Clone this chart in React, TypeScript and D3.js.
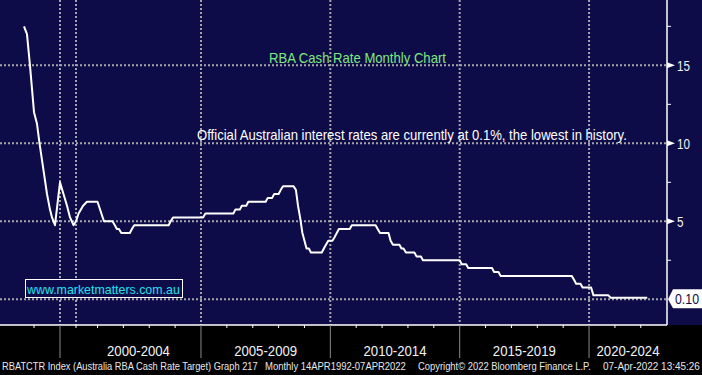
import React, { useRef, useEffect } from "react";
import * as d3 from "d3";

// line vertices: decimal year -> cash rate (%)
const years = [
  1989.46, 1989.92, 1990.38, 1991.0, 1991.46, 1991.85, 1992.38, 1993.0, 1993.46, 1993.77,
  1994.23, 1995.0, 1996.09, 1997.19, 1998.13, 1999.22, 2000.0, 2000.12, 2000.33, 2000.51,
  2001.0, 2001.25, 2001.58, 2001.67, 2001.75, 2001.83, 2001.92, 2002.25, 2002.33, 2002.42,
  2003.75, 2003.83, 2003.92, 2005.08, 2005.17, 2006.25, 2006.33, 2006.5, 2006.58, 2006.75,
  2006.83, 2007.5, 2007.58, 2007.75, 2007.83, 2008.0, 2008.08, 2008.17, 2008.58, 2008.67,
  2008.75, 2008.83, 2008.92, 2009.08, 2009.17, 2009.25, 2009.67, 2009.75, 2009.83,
  2009.92, 2010.08, 2010.17, 2010.25, 2010.33, 2010.75, 2010.83, 2011.75, 2011.83, 2011.92,
  2012.25, 2012.33, 2012.42, 2012.67, 2012.75, 2012.83, 2012.92, 2013.25, 2013.33, 2013.5,
  2013.58, 2015.0, 2015.08, 2015.25, 2015.33, 2016.25, 2016.33, 2016.5, 2016.58, 2019.33,
  2019.42, 2019.5, 2019.67, 2019.75, 2020.08, 2020.17, 2020.75, 2020.83, 2022.25,
];
const rates = [
  17.5, 17.0, 15.0, 12.0, 11.25, 10.0, 8.5, 6.75, 5.75, 5.25,
  4.75, 7.5, 6.75, 6.0, 5.25, 4.75, 5.0, 5.5, 6.0, 6.25,
  6.25, 5.0, 5.0, 4.75, 4.5, 4.5, 4.25, 4.25, 4.5, 4.75,
  4.75, 5.0, 5.25, 5.25, 5.5, 5.5, 5.75, 5.75, 6.0, 6.0,
  6.25, 6.25, 6.5, 6.5, 6.75, 6.75, 7.0, 7.25, 7.25, 7.0,
  6.0, 5.25, 4.25, 3.25, 3.25, 3.0, 3.0, 3.25, 3.5,
  3.75, 3.75, 4.0, 4.25, 4.5, 4.5, 4.75, 4.75, 4.5, 4.25,
  4.25, 3.75, 3.5, 3.5, 3.25, 3.25, 3.0, 3.0, 2.75, 2.75,
  2.5, 2.5, 2.25, 2.25, 2.0, 2.0, 1.75, 1.75, 1.5, 1.5,
  1.25, 1.0, 1.0, 0.75, 0.75, 0.25, 0.25, 0.1, 0.1,
];

const yGrid = [0, 5, 10, 15];
const yLabels = [5, 10, 15];
const yMinor = [2.5, 7.5, 12.5, 17.5];
const xGrid = [1995, 2000, 2005, 2010, 2015, 2020];
const xSeparators = [1995, 2005, 2010, 2015, 2020];
const xMinor = [1991, 2000, 2001, 2002, 2003, 2004, 2006, 2007, 2008, 2009, 2011, 2012, 2013, 2014, 2016, 2017, 2018, 2019, 2021, 2022];
const periodStarts = [2000, 2005, 2010, 2015, 2020];
const periodLabels = ["2000-2004", "2005-2009", "2010-2014", "2015-2019", "2020-2024"];
const lastLabel = "0.10";

const title = "RBA Cash Rate Monthly Chart";
const note = "Official Australian interest rates are currently at 0.1%, the lowest in history.";
const website = "www.marketmatters.com.au";
const footer = [
  "RBATCTR Index (Australia RBA Cash Rate Target) Graph 217",
  "Monthly 14APR1992-07APR2022",
  "Copyright\u00a9 2022 Bloomberg Finance L.P.",
  "07-Apr-2022 13:45:26",
];

// squeeze a text node horizontally so it spans `w` pixels (Bloomberg uses a narrow face)
const fit = (node, x, y, w, anchor = "start") => {
  const natural = node.getComputedTextLength();
  const s = w / natural;
  const left = anchor === "middle" ? x - w / 2 : x;
  d3.select(node).attr("transform", `translate(${left},${y}) scale(${s},1)`);
};

const RateChart = () => {
  const wrapper = useRef(null);
  const width = 702;
  const height = 375;
  const plotRight = 667;
  const plotBottom = 325;

  useEffect(() => {
    d3.select(wrapper.current).selectAll("*").remove();
    const font = "'Liberation Sans', Arial, sans-serif";

    const svg = d3
      .select(wrapper.current)
      .append("svg")
      .attr("width", width)
      .attr("height", height)
      .style("position", "absolute")
      .style("left", 0)
      .style("top", 0)
      .style("font-family", font);

    // the early years are squeezed on the Bloomberg axis
    const x = d3.scaleLinear().domain([1990, 1995, 2000, 2001, 2025]).range([27.5, 60, 76, 97.5, 718.4]);
    const y = d3.scaleLinear().domain([-1.65, 19.19]).range([plotBottom, 0]);

    svg.append("rect").attr("width", width).attr("height", height).attr("fill", "#000000");
    svg.append("rect").attr("width", width).attr("height", plotBottom).attr("fill", "#0e0c48");

    const grid = svg.append("g").attr("stroke", "#a4a4a8").attr("stroke-width", 2).attr("stroke-dasharray", "2,2");
    grid
      .selectAll("line.h")
      .data(yGrid)
      .enter()
      .append("line")
      .attr("x1", 0)
      .attr("x2", plotRight)
      .attr("y1", (d) => y(d))
      .attr("y2", (d) => y(d));
    grid
      .selectAll("line.v")
      .data(xGrid)
      .enter()
      .append("line")
      .attr("x1", (d) => x(d))
      .attr("x2", (d) => x(d))
      .attr("y1", 0)
      .attr("y2", plotBottom);

    // title + annotation
    const t1 = svg.append("text").text(title).attr("font-size", 15).attr("fill", "#7fe87f");
    fit(t1.node(), 269, 62.5, 177);
    const t2 = svg.append("text").text(note).attr("font-size", 15).attr("fill", "#ffffff");
    fit(t2.node(), 197, 140, 430);

    // website box
    svg
      .append("rect")
      .attr("x", 25.5)
      .attr("y", 279.5)
      .attr("width", 157)
      .attr("height", 18)
      .attr("fill", "#0e0c48")
      .attr("stroke", "#ffffff")
      .attr("stroke-width", 1);
    const t3 = svg.append("text").text(website).attr("font-size", 13).attr("fill", "#22e2f0");
    fit(t3.node(), 27, 293.5, 153);

    // the rate line
    const line = d3
      .line()
      .x((d) => x(d[0]))
      .y((d) => y(d[1]));
    svg
      .append("path")
      .datum(years.map((yr, i) => [yr, rates[i]]))
      .attr("d", line)
      .attr("fill", "none")
      .attr("stroke", "#ffffff")
      .attr("stroke-width", 2)
      .attr("stroke-linejoin", "round");

    // right axis
    svg
      .append("line")
      .attr("x1", plotRight)
      .attr("x2", plotRight)
      .attr("y1", 0)
      .attr("y2", plotBottom)
      .attr("stroke", "#ffffff")
      .attr("stroke-width", 1.5);
    svg
      .selectAll("line.ym")
      .data(yMinor)
      .enter()
      .append("line")
      .attr("x1", plotRight)
      .attr("x2", plotRight + 4)
      .attr("y1", (d) => y(d))
      .attr("y2", (d) => y(d))
      .attr("stroke", "#ffffff")
      .attr("stroke-width", 1);
    svg
      .selectAll("path.ytick")
      .data(yLabels)
      .enter()
      .append("path")
      .attr("d", (d) => `M${plotRight},${y(d) - 3}L${plotRight + 8},${y(d)}L${plotRight},${y(d) + 3}Z`)
      .attr("fill", "#ffffff");
    svg
      .selectAll("text.ylab")
      .data(yLabels)
      .enter()
      .append("text")
      .text((d) => d)
      .attr("font-size", 14)
      .attr("fill", "#f2f2f2")
      .each(function (d) {
        fit(this, 677, y(d) + 5.5, d >= 10 ? 13 : 6.5);
      });

    // last value tag
    const ly = y(rates[rates.length - 1]) + 1.5;
    svg
      .append("path")
      .attr("d", `M668,${ly}L673,${ly - 10}L703,${ly - 10}L703,${ly + 9}L673,${ly + 9}Z`)
      .attr("fill", "#ffffff");
    const t4 = svg.append("text").text(lastLabel).attr("font-size", 14).attr("fill", "#0e0c48");
    fit(t4.node(), 675, ly + 4.5, 24);

    // bottom axis
    svg
      .append("line")
      .attr("x1", 0)
      .attr("x2", plotRight)
      .attr("y1", plotBottom)
      .attr("y2", plotBottom)
      .attr("stroke", "#ffffff")
      .attr("stroke-width", 1.5);
    svg
      .selectAll("line.xm")
      .data(xMinor)
      .enter()
      .append("line")
      .attr("x1", (d) => x(d))
      .attr("x2", (d) => x(d))
      .attr("y1", plotBottom)
      .attr("y2", plotBottom + 3)
      .attr("stroke", "#ffffff")
      .attr("stroke-width", 1);
    svg
      .selectAll("line.sep")
      .data(xSeparators)
      .enter()
      .append("line")
      .attr("x1", (d) => x(d))
      .attr("x2", (d) => x(d))
      .attr("y1", plotBottom)
      .attr("y2", 358)
      .attr("stroke", "#8a8a8a")
      .attr("stroke-width", 1);
    svg
      .selectAll("text.period")
      .data(periodStarts)
      .enter()
      .append("text")
      .text((d, i) => periodLabels[i])
      .attr("font-size", 14)
      .attr("fill", "#f2f2f2")
      .each(function (d, i) {
        const end = i < periodStarts.length - 1 ? x(periodStarts[i + 1]) : plotRight;
        fit(this, (x(d) + end) / 2, 356, 63, "middle");
      });

    // footer
    const footX = [2, 265, 418, 603];
    const footW = [256, 141, 173, 97];
    svg
      .selectAll("text.foot")
      .data(footer)
      .enter()
      .append("text")
      .text((d) => d)
      .attr("font-size", 11)
      .attr("fill", "#e8e8e8")
      .each(function (d, i) {
        fit(this, footX[i], 370, footW[i]);
      });
  }, [wrapper]);

  return <div ref={wrapper}></div>;
};

export default function App() {
  return <RateChart />;
}
